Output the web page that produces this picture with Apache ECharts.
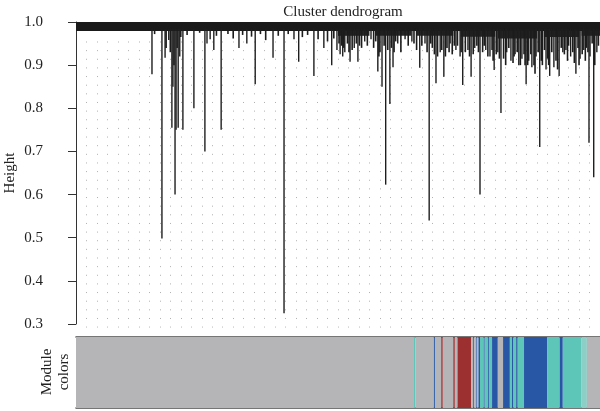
<!DOCTYPE html>
<html><head><meta charset="utf-8">
<script src="https://cdn.jsdelivr.net/npm/echarts@6/dist/echarts.min.js"></script>
<style>html,body{margin:0;padding:0;background:#fff}#c{width:600px;height:411px}</style>
</head><body><div id="c"></div>
<script>
// y-axis tick labels
const heightTicks = [0.3, 0.4, 0.5, 0.6, 0.7, 0.8, 0.9, 1.0];
// dendrogram: major branches [leaf position (0-1000), merge height]
const branches = [
[145,0.879],[164,0.498],[170,0.917],[177,0.958],[183,0.755],[185,0.85],[189,0.60],[191,0.75],[195,0.755],[198,0.92],[204,0.75],
[225,0.80],[246,0.70],[250,0.95],[256,0.96],[263,0.935],[277,0.75],[311,0.94],[326,0.95],[342,0.856],[376,0.917],[397,0.325],
[416,0.96],[425,0.908],[454,0.875],[473,0.94],[488,0.90],[498,0.935],[504,0.925],[509,0.92],[513,0.93],[523,0.908],[531,0.94],
[538,0.908],[551,0.955],[563,0.96],[576,0.885],[584,0.85],[591,0.623],[599,0.81],[605,0.895],[614,0.95],[628,0.96],[641,0.955],
[656,0.894],[666,0.95],[674,0.54],[687,0.858],[695,0.93],[702,0.873],[714,0.95],[725,0.935],[733,0.92],[738,0.854],[748,0.935],
[754,0.873],[761,0.94],[771,0.60],[782,0.935],[790,0.92],[798,0.889],[805,0.93],[811,0.789],[822,0.93],[830,0.91],[838,0.925],
[845,0.90],[851,0.915],[859,0.856],[864,0.91],[870,0.895],[878,0.92],[885,0.71],[897,0.89],[904,0.875],[912,0.895],[922,0.875],
[929,0.93],[935,0.935],[944,0.92],[954,0.88],[962,0.915],[969,0.935],[979,0.72],[981,0.92],[988,0.64],[994,0.93]
];
// dendrogram: small high merges (fringe)
const fringe = [
[150,0.972],[172,0.94],[180,0.93],[187,0.9],[193,0.94],[200,0.965],[212,0.97],[236,0.975],[268,0.968],[290,0.972],[300,0.962],[318,0.97],[335,0.966],[352,0.972],[362,0.958],
[386,0.968],[405,0.972],[432,0.965],[442,0.97],[462,0.96],[480,0.955],[492,0.962],[502,0.95],[507,0.945],[511,0.94],[518,0.95],[521,0.93],[527,0.935],[535,0.95],
[541,0.945],[545,0.94],[556,0.945],[568,0.94],[572,0.955],[578,0.92],[580,0.93],[588,0.945],[595,0.935],[602,0.94],[607,0.93],[610,0.955],[620,0.93],[634,0.945],
[645,0.95],[650,0.935],[660,0.945],[670,0.93],[677,0.95],[680,0.94],[684,0.925],[690,0.92],[698,0.935],[705,0.92],[708,0.94],[712,0.93],[718,0.925],[722,0.945],[728,0.945],[735,0.93],[743,0.93],
[751,0.92],[758,0.925],[765,0.945],[768,0.93],[776,0.93],[779,0.945],[786,0.92],[794,0.935],[796,0.91],[802,0.925],[808,0.915],[816,0.915],[820,0.9],[826,0.94],[834,0.905],[836,0.92],[842,0.93],[848,0.9],
[855,0.925],[857,0.9],[862,0.9],[868,0.925],[874,0.9],[876,0.88],[882,0.93],[888,0.91],[890,0.9],[894,0.935],[900,0.915],[902,0.9],[908,0.93],[916,0.91],[919,0.89],[926,0.94],
[932,0.925],[938,0.91],[940,0.945],[948,0.93],[951,0.905],[958,0.94],[960,0.9],[966,0.925],[972,0.91],[974,0.94],[977,0.93],[985,0.95],[990,0.9],[997,0.945]
];
// top trunk band [from, to, low height, high height]
const trunk = [[0, 1000, 0.979, 1.0]];
// dense merge clusters just under the trunk [from, to, low height, high height]
const clusters = [
[500,560,0.968,0.98],[572,640,0.968,0.98],[650,720,0.968,0.98],[735,800,0.966,0.98],
[805,880,0.962,0.98],[893,960,0.965,0.98],[965,1000,0.968,0.98]
];
// module color segments [from, to, module]
const modules = [
[0,645,'grey'],[645,648,'turquoise'],[648,683,'grey'],[683,685,'blue'],[685,697,'grey'],[697,700,'brown'],[700,720,'grey'],
[720,723,'brown'],[723,728,'grey'],[728,754,'brown'],[754,758,'grey'],[758,760,'blue'],[760,764,'grey'],[764,766,'blue'],
[766,768,'grey'],[768,771,'blue'],[771,778,'turquoise'],[778,780,'blue'],[780,786,'turquoise'],[786,788,'blue'],[788,794,'turquoise'],
[794,805,'blue'],[805,815,'grey'],[815,828,'blue'],[828,832,'turquoise'],[832,835,'blue'],[835,840,'turquoise'],[840,843,'blue'],
[843,855,'turquoise'],[855,899,'blue'],[899,923,'turquoise'],[923,929,'blue'],[929,965,'turquoise'],[965,975,'lightturquoise'],
[975,1000,'grey']
];
const moduleColors = {grey:'#b5b4b6', turquoise:'#5ec5b9', lightturquoise:'#8ccfc6', blue:'#2757a5', brown:'#9c2f30'};

const SERIF = '"Liberation Serif","DejaVu Serif",serif';
const chart = echarts.init(document.getElementById('c'), null, {renderer:'canvas'});

function dropRender(color, width) {
  return function (params, api) {
    const top = api.coord([api.value(0), 0.985]);
    const bot = api.coord([api.value(0), api.value(1)]);
    return {type:'line', shape:{x1:top[0], y1:top[1], x2:bot[0], y2:bot[1]},
      style:{stroke:color, lineWidth:width}};
  };
}
function rectRender(color) {
  return function(params, api){
    const a = api.coord([api.value(0), api.value(3)]);
    const b = api.coord([api.value(1), api.value(2)]);
    return {type:'rect', shape:{x:a[0], y:a[1], width:b[0]-a[0], height:b[1]-a[1]}, style:{fill:color}};
  };
}

chart.setOption({
  animation:false,
  title:{text:'Cluster dendrogram', left:338, top:0, textAlign:'center',
    textStyle:{fontFamily:SERIF, fontSize:15, fontWeight:'normal', color:'#222'}},
  grid:[
    {left:76, right:0, top:22, height:302},
    {left:76, right:0, top:41.5, height:286},
    {left:76, right:0, top:337, height:71}
  ],
  xAxis:[
    {gridIndex:0, type:'value', min:0, max:1000, show:false},
    {gridIndex:1, type:'value', min:0, max:1000, interval:20,
      axisLine:{show:false}, axisTick:{show:false}, axisLabel:{show:false},
      splitLine:{show:true, showMinLine:false, lineStyle:{color:'#b0b0b0', width:1, type:[1,7.64]}}},
    {gridIndex:2, type:'value', min:0, max:1000, position:'bottom',
      axisLine:{show:true, onZero:false, lineStyle:{color:'#4a4a4a', width:1.5}},
      axisTick:{show:false}, axisLabel:{show:false}, splitLine:{show:false}},
    {gridIndex:2, type:'value', min:0, max:1000, position:'top',
      axisLine:{show:true, onZero:false, lineStyle:{color:'#4a4a4a', width:1.5}},
      axisTick:{show:false}, axisLabel:{show:false}, splitLine:{show:false}}
  ],
  yAxis:[
    {gridIndex:0, type:'value', min:heightTicks[0], max:heightTicks[heightTicks.length-1], interval:0.1,
      offset:21,
      axisLine:{show:true, lineStyle:{color:'#333', width:1}},
      axisTick:{show:true, length:8, lineStyle:{color:'#333', width:1}},
      axisLabel:{margin:12, fontFamily:SERIF, fontSize:15, color:'#222', formatter:v=>v.toFixed(1)},
      splitLine:{show:false}},
    {gridIndex:1, type:'value', min:0, max:1, show:false},
    {gridIndex:2, type:'value', min:0, max:1, show:false}
  ],
  graphic:[
    {type:'text', x:10, y:173, rotation:Math.PI/2,
      style:{text:'Height', font:'15px '+SERIF, fill:'#222', align:'center', verticalAlign:'middle'}},
    {type:'text', x:47, y:372, rotation:Math.PI/2,
      style:{text:'Module', font:'15px '+SERIF, fill:'#222', align:'center', verticalAlign:'middle'}},
    {type:'text', x:64, y:372, rotation:Math.PI/2,
      style:{text:'colors', font:'15px '+SERIF, fill:'#222', align:'center', verticalAlign:'middle'}}
  ],
  series:[
    {type:'custom', xAxisIndex:0, yAxisIndex:0, z:3, data:trunk, renderItem:rectRender('#1a1a1a')},
    {type:'custom', xAxisIndex:0, yAxisIndex:0, z:3, data:clusters, renderItem:rectRender('#262626')},
    {type:'custom', xAxisIndex:0, yAxisIndex:0, z:4, data:fringe, renderItem:dropRender('#1c1c1c', 1.6)},
    {type:'custom', xAxisIndex:0, yAxisIndex:0, z:5, data:branches, renderItem:dropRender('#1e1e1e', 1.4)},
    {type:'custom', xAxisIndex:2, yAxisIndex:2, z:2,
      data:modules.map(m=>[m[0], m[1], m[2]]),
      renderItem:function(params, api){
        const m = modules[params.dataIndex];
        const a = api.coord([m[0], 1]);
        const b = api.coord([m[1], 0]);
        return {type:'rect', shape:{x:a[0], y:a[1], width:b[0]-a[0], height:b[1]-a[1]},
          style:{fill:moduleColors[m[2]]}};
      }}
  ]
});
</script></body></html>
